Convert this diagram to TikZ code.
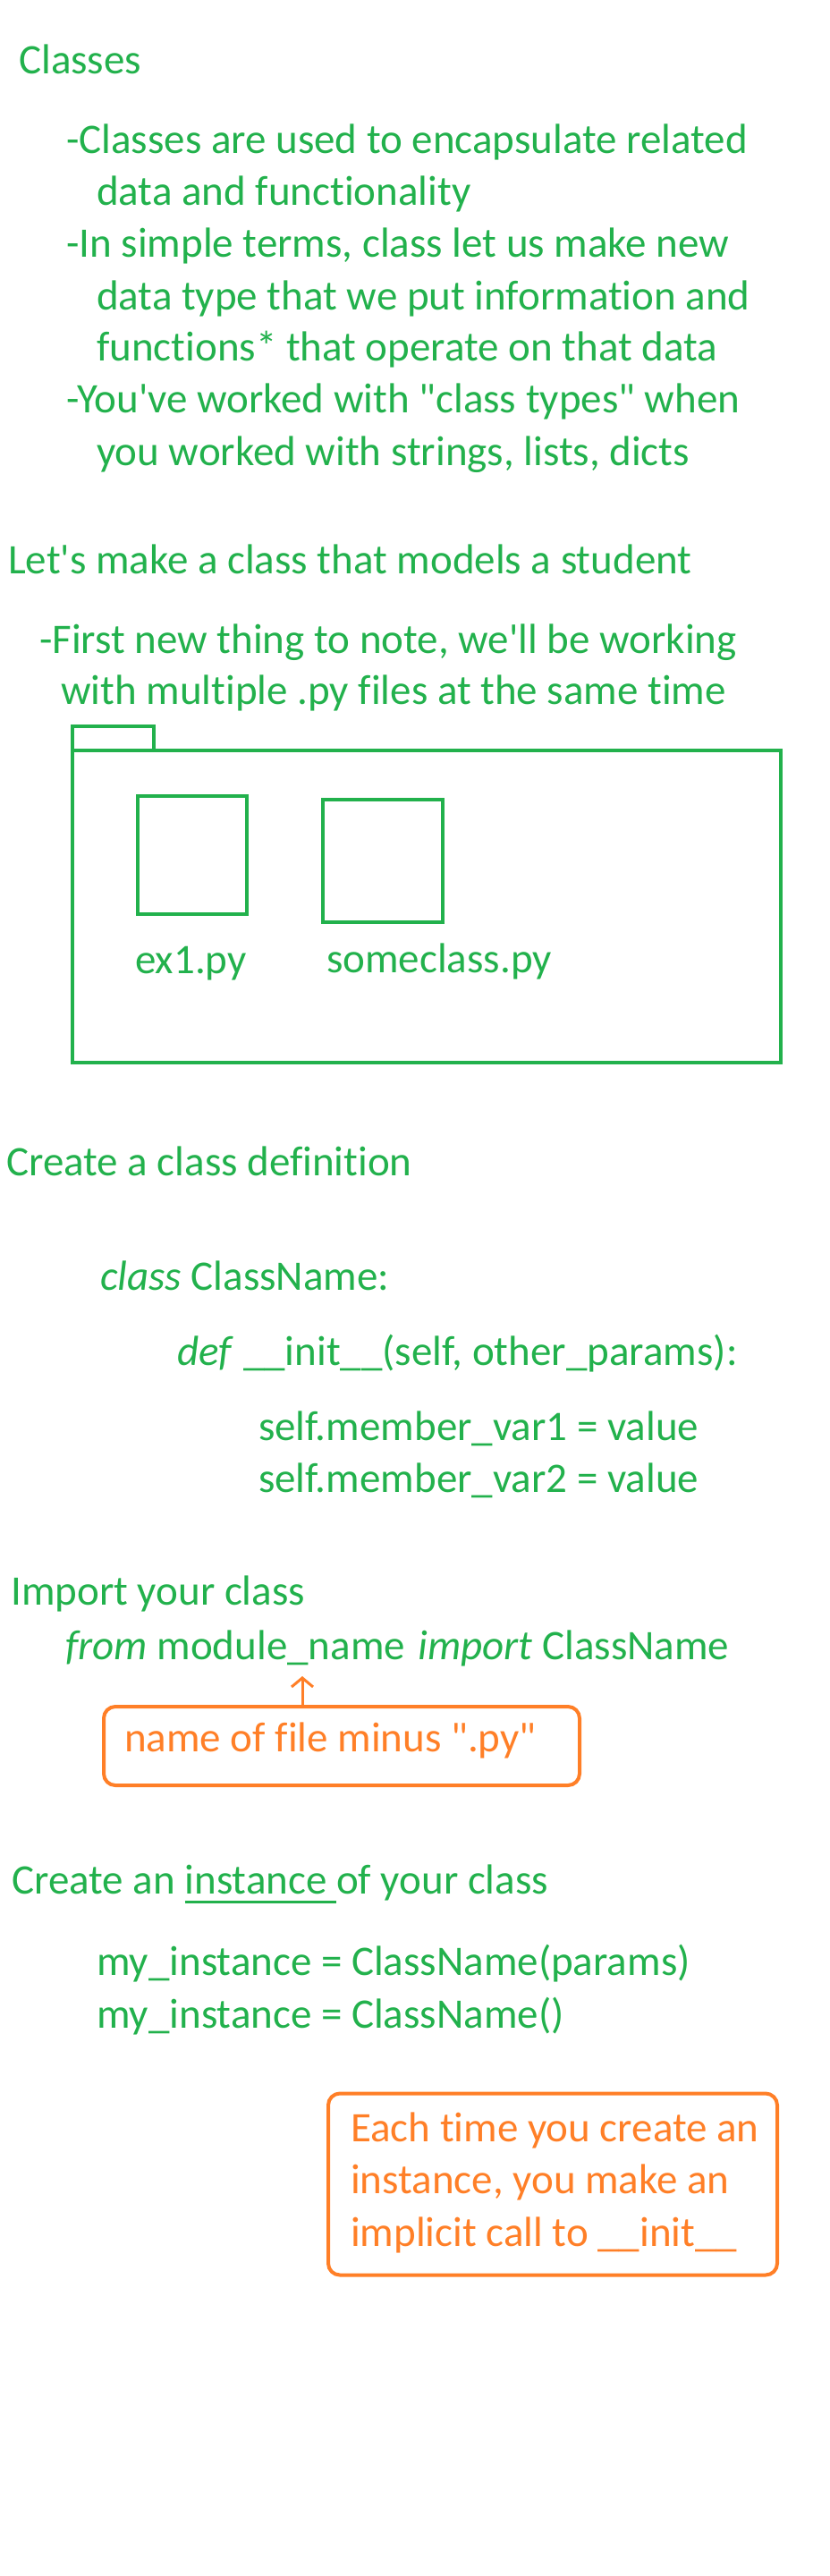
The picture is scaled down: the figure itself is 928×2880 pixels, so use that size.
\documentclass[tikz,border=0pt]{standalone}
\usepackage{fontspec}
\usepackage{tikz}
\usetikzlibrary{arrows.meta}
\newfontfamily\calib{Carlito}[Ligatures={NoCommon,NoContextual}]
\definecolor{pgreen}{HTML}{22B14C}
\definecolor{porange}{HTML}{FF7F27}
\newcommand\ulword[1]{\setbox0\hbox{#1}\rlap{\rule[-10.5pt]{\wd0}{3pt}}\box0}

\begin{document}
\begin{tikzpicture}[x=1pt, y=-1pt,
    txt/.style={anchor=base west, inner sep=0pt, text=pgreen, font=\calib\fontsize{47pt}{58pt}\selectfont},
    note/.style={txt, text=porange},
    folder/.style={draw=pgreen, line width=4pt},
    callout/.style={draw=porange, line width=4pt, rounded corners=13pt, inner sep=0pt}]
    \useasboundingbox (0,0) rectangle (928,2880);
    \foreach \x/\y/\t [count=\i] in {
        21/82/Classes,
        74/171/{-Classes are used to encapsulate related},
        108/229/{data and functionality},
        74/287/{-In simple terms, class let us make new},
        108/346/{data type that we put information and},
        108/403/{functions* that operate on that data},
        74/461/{-You've worked with "class types" when},
        108/520/{you worked with strings, lists, dicts},
        9/641/{Let's make a class that models a student},
        44/730/{-First new thing to note, we'll be working},
        68/787/{with multiple .py files at the same time},
        7/1314/{Create a class definition},
        112/1442/{\textit{class} ClassName:},
        198/1526/{\textit{def} \_\_init\_\_(self, other\_params):},
        289/1610/{self.member\_var1 = value},
        289/1668/{self.member\_var2 = value},
        12/1794/{Import your class},
        73/1855/{\textit{from} module\_name\ \hspace{4pt}\textit{import} ClassName},
        13/2117/{Create an \ulword{instance\ }of your class},
        108/2208/{my\_instance = ClassName(params)},
        108/2267/{my\_instance = ClassName()}
      }
        \node[txt] (line\i) at (\x,\y) {\t};
    \draw[folder] (81,812) rectangle (172,839);
    \draw[folder] (81,839) rectangle (873,1188);
    \draw[folder] (154,890) rectangle (276,1022);
    \draw[folder] (361,894) rectangle (495,1031);
    \node[txt] (ex) at (151,1088) {ex1.py};
    \node[txt] (some) at (365,1087) {someclass.py};
    \node[callout, minimum width=532pt, minimum height=88pt] (pynote) at (382,1952) {};
    \node[note] (pynotetxt) at (139,1958) {name of file minus ".py"};
    \coordinate (modtip) at (338,1874);
    \draw[porange, line width=3pt, -{Straight Barb[length=10pt, width=24pt]}] (pynote.north -| modtip) -- (modtip);
    \node[callout, minimum width=502pt, minimum height=203pt] (initnote) at (618,2442) {};
    \foreach \y/\t [count=\i] in {2394/{Each time you create an}, 2452/{instance, you make an}, 2511/{implicit call to \_\_init\_\_}}
        \node[note] (initline\i) at (392,\y) {\t};
\end{tikzpicture}
\end{document}
